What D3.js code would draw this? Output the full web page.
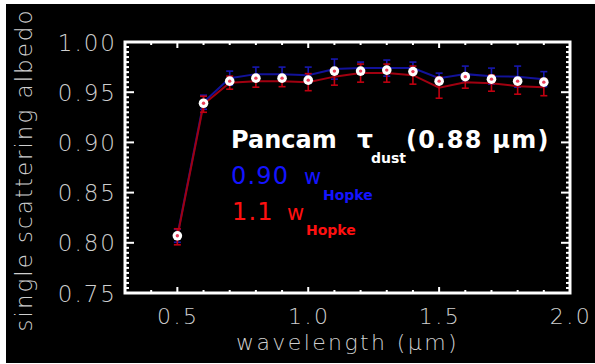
<!DOCTYPE html>
<html>
<head>
<meta charset="utf-8">
<script src="https://cdn.jsdelivr.net/npm/d3@7"></script>
<style>
  html, body { margin: 0; padding: 0; background: #fff; }
  svg { display: block; }
</style>
</head>
<body>
<div id="chart"></div>
<script>
// data
const wavelength = [0.5, 0.6, 0.7, 0.8, 0.9, 1.0, 1.1, 1.2, 1.3, 1.4, 1.5, 1.6, 1.7, 1.8, 1.9];
const observed   = [0.807, 0.939, 0.961, 0.964, 0.964, 0.962, 0.971, 0.971, 0.972, 0.9705, 0.961, 0.9655, 0.963, 0.961, 0.960];
const blueModel  = [0.807, 0.940, 0.964, 0.968, 0.968, 0.967, 0.973, 0.974, 0.974, 0.974, 0.964, 0.968, 0.966, 0.9655, 0.963];
const redModel   = [0.806, 0.938, 0.9595, 0.961, 0.961, 0.960, 0.9655, 0.969, 0.969, 0.967, 0.9545, 0.960, 0.959, 0.956, 0.955];
const blueErr    = [0.0065, 0.007, 0.007, 0.007, 0.007, 0.008, 0.010, 0.006, 0.008, 0.006, 0.005, 0.008, 0.008, 0.0105, 0.0075];
const redErr     = [0.008, 0.008, 0.0065, 0.006, 0.0055, 0.0085, 0.0085, 0.009, 0.009, 0.009, 0.0105, 0.006, 0.008, 0.008, 0.0085];
const xTicks = [0.5, 1.0, 1.5, 2.0];
const yTicks = [0.75, 0.80, 0.85, 0.90, 0.95, 1.00];

const width = 595, height = 364;
const pLeft = 125, pRight = 570, pTop = 42, pBottom = 293;

const svg = d3.select("#chart").append("svg")
  .attr("width", width).attr("height", height);

// black frame of the picture (white slivers at the edges)
svg.append("rect").attr("x", 6).attr("y", 4).attr("width", width - 6).attr("height", 359).attr("fill", "#000");

const x = d3.scaleLinear().domain([0.3, 2.0]).range([pLeft, pRight]);
const y = d3.scaleLinear().domain([0.75, 1.0]).range([pBottom, pTop]);

const labelFont = "'DejaVu Sans', sans-serif";
const labelCol = "#cfcfcf";

// minor / major ticks, all four sides, pointing inward
const xMinor = d3.range(4, 20).map(i => i / 10);
const yMinor = d3.range(0, 51).map(i => 0.75 + i * 0.005);
const isMajorX = d => xTicks.some(t => Math.abs(t - d) < 1e-6);
const tk = svg.append("g").attr("stroke", "#fff").attr("stroke-width", 2);

tk.selectAll(".xb").data(xMinor).join("line").attr("class", "xb")
  .attr("x1", d => x(d)).attr("x2", d => x(d))
  .attr("y1", pBottom).attr("y2", d => pBottom - (isMajorX(d) ? 6 : 3));
tk.selectAll(".xt").data(xMinor).join("line").attr("class", "xt")
  .attr("x1", d => x(d)).attr("x2", d => x(d))
  .attr("y1", pTop).attr("y2", d => pTop + (isMajorX(d) ? 6 : 3));
tk.selectAll(".yl").data(yMinor).join("line").attr("class", "yl")
  .attr("y1", d => y(d)).attr("y2", d => y(d))
  .attr("x1", pLeft).attr("x2", (d, i) => pLeft + (i % 10 === 0 ? 9 : 4));
tk.selectAll(".yr").data(yMinor).join("line").attr("class", "yr")
  .attr("y1", d => y(d)).attr("y2", d => y(d))
  .attr("x1", pRight).attr("x2", (d, i) => pRight - (i % 10 === 0 ? 9 : 4));

// frame
svg.append("rect")
  .attr("x", pLeft).attr("y", pTop)
  .attr("width", pRight - pLeft).attr("height", pBottom - pTop)
  .attr("fill", "none").attr("stroke", "#fff").attr("stroke-width", 3);

// tick labels
svg.append("g").selectAll("text").data(xTicks).join("text")
  .attr("x", d => x(d) + 1).attr("y", 324)
  .attr("text-anchor", "middle")
  .attr("font-family", labelFont).attr("font-weight", 200).attr("font-size", 22)
  .attr("letter-spacing", 2.5).attr("fill", labelCol)
  .text(d => d.toFixed(1));

svg.append("g").selectAll("text").data(yTicks).join("text")
  .attr("x", 117).attr("y", d => y(d) + 8.5)
  .attr("text-anchor", "end")
  .attr("font-family", labelFont).attr("font-weight", 200).attr("font-size", 23)
  .attr("letter-spacing", 2).attr("fill", labelCol)
  .text(d => d.toFixed(2));

// axis titles
svg.append("text")
  .attr("x", (pLeft + pRight) / 2).attr("y", 350)
  .attr("text-anchor", "middle")
  .attr("font-family", labelFont).attr("font-weight", 200).attr("font-size", 22)
  .attr("letter-spacing", 2.4).attr("fill", labelCol)
  .text("wavelength (\u03bcm)");

svg.append("text")
  .attr("transform", "translate(32,170) rotate(-90)")
  .attr("text-anchor", "middle")
  .attr("font-family", labelFont).attr("font-weight", 200).attr("font-size", 23)
  .attr("letter-spacing", 2).attr("fill", labelCol)
  .text("single scattering albedo");

// model lines
const line = d3.line().x(d => x(d[0])).y(d => y(d[1]));
const bluePts = wavelength.map((w, i) => [w, blueModel[i]]);
const redPts = wavelength.map((w, i) => [w, redModel[i]]);

// error bars
function errBars(vals, errs, col) {
  const g = svg.append("g").attr("stroke", col).attr("stroke-width", 1.6);
  wavelength.forEach((w, i) => {
    const cx = x(w), y0 = y(vals[i] - errs[i]), y1 = y(vals[i] + errs[i]);
    g.append("line").attr("x1", cx).attr("x2", cx).attr("y1", y0).attr("y2", y1);
    g.append("line").attr("x1", cx - 3.5).attr("x2", cx + 3.5).attr("y1", y0).attr("y2", y0);
    g.append("line").attr("x1", cx - 3.5).attr("x2", cx + 3.5).attr("y1", y1).attr("y2", y1);
  });
}

svg.append("path").datum(bluePts).attr("d", line)
  .attr("fill", "none").attr("stroke", "#12129a").attr("stroke-width", 2);
errBars(blueModel, blueErr, "#1818b0");
svg.append("path").datum(redPts).attr("d", line)
  .attr("fill", "none").attr("stroke", "#a00010").attr("stroke-width", 2);
errBars(redModel, redErr, "#c00010");

// observed points
const pts = svg.append("g");
pts.selectAll("circle.o").data(wavelength).join("circle").attr("class", "o")
  .attr("cx", d => x(d)).attr("cy", (d, i) => y(observed[i]))
  .attr("r", 4.8).attr("fill", "#fff");
pts.selectAll("circle.c").data(wavelength).join("circle").attr("class", "c")
  .attr("cx", d => x(d)).attr("cy", (d, i) => y(observed[i]))
  .attr("r", 1.7).attr("fill", "#e8405a");

// annotation
const ann = svg.append("g").attr("font-family", "'DejaVu Sans', sans-serif");
ann.append("text").attr("x", 231).attr("y", 148)
  .attr("font-size", 24).attr("font-weight", "bold").attr("fill", "#fff")
  .text("Pancam");
ann.append("text").attr("x", 357).attr("y", 148)
  .attr("font-size", 25).attr("font-weight", "bold").attr("fill", "#fff")
  .text("\u03c4");
ann.append("text").attr("x", 371).attr("y", 163)
  .attr("font-size", 14).attr("font-weight", "bold").attr("fill", "#fff")
  .text("dust");
ann.append("text").attr("x", 406).attr("y", 148)
  .attr("font-size", 24).attr("font-weight", "bold").attr("fill", "#fff").attr("letter-spacing", 1.3)
  .text("(0.88 \u03bcm)");

ann.append("text").attr("x", 231).attr("y", 184)
  .attr("font-size", 24).attr("fill", "#1414ff").attr("letter-spacing", 1.2)
  .text("0.90");
ann.append("text").attr("x", 304).attr("y", 184)
  .attr("font-size", 21).attr("fill", "#1414ff")
  .text("w");
ann.append("text").attr("x", 323).attr("y", 200)
  .attr("font-size", 14).attr("font-weight", "bold").attr("fill", "#1414ff")
  .text("Hopke");

ann.append("text").attr("x", 232).attr("y", 220)
  .attr("font-size", 24).attr("fill", "#ff1010").attr("letter-spacing", 1.2)
  .text("1.1");
ann.append("text").attr("x", 287).attr("y", 220)
  .attr("font-size", 21).attr("fill", "#ff1010")
  .text("w");
ann.append("text").attr("x", 306).attr("y", 235)
  .attr("font-size", 14).attr("font-weight", "bold").attr("fill", "#ff1010")
  .text("Hopke");
</script>
</body>
</html>
